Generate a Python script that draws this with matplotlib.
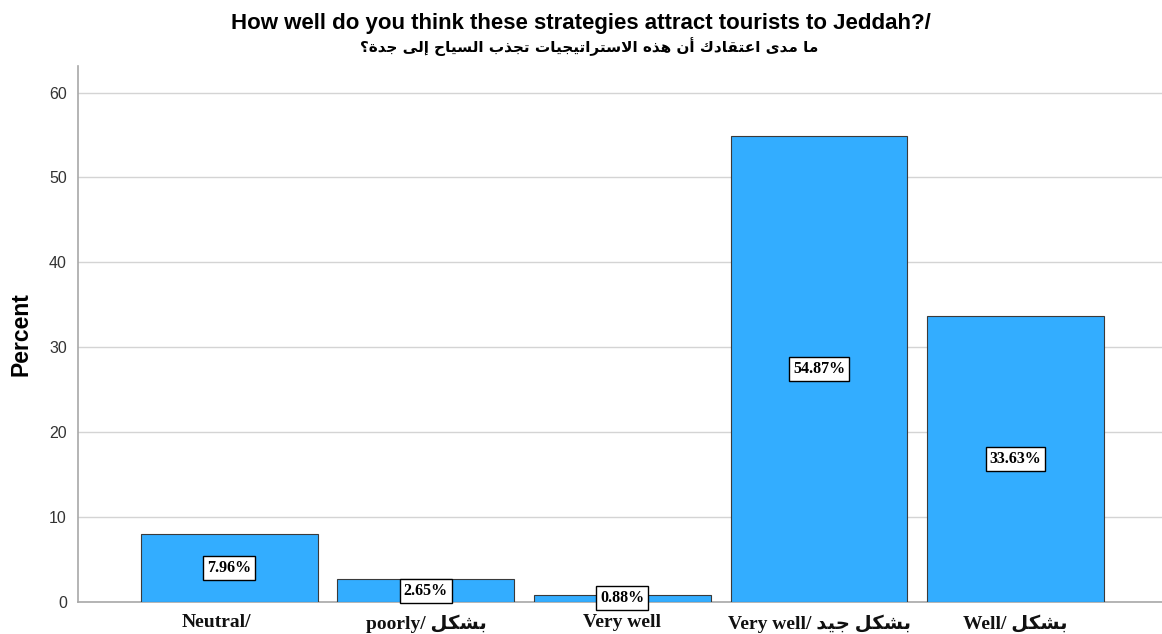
import matplotlib
matplotlib.use("Agg")
import matplotlib.pyplot as plt
from matplotlib.transforms import ScaledTranslation

# ── Data ────────────────────────────────────────────────
categories = ["Neutral/", "poorly/ بشكل", "Very well", "Very well/ بشكل جيد", "Well/ بشكل"]
percents = [7.96, 2.65, 0.88, 54.87, 33.63]
yticks = [0, 10, 20, 30, 40, 50, 60]
title_en = "How well do you think these strategies attract tourists to Jeddah?/"
title_ar = "ما مدى اعتقادك أن هذه الاستراتيجيات تجذب السياح إلى جدة؟"

BAR_BLUE = "#33adff"
EDGE = "#3a3a3a"
GRID = "#d4d4d4"
AXIS = "#a8a8a8"

# ── Minimal Arabic shaping (presentation forms, visual order) ──
# letter -> (isolated, final, initial, medial); two-form letters only join on the right
FORMS = {
    "ا": (0xFE8D, 0xFE8E), "أ": (0xFE83, 0xFE84), "إ": (0xFE87, 0xFE88), "آ": (0xFE81, 0xFE82),
    "ب": (0xFE8F, 0xFE90, 0xFE91, 0xFE92), "ة": (0xFE93, 0xFE94),
    "ت": (0xFE95, 0xFE96, 0xFE97, 0xFE98), "ث": (0xFE99, 0xFE9A, 0xFE9B, 0xFE9C),
    "ج": (0xFE9D, 0xFE9E, 0xFE9F, 0xFEA0), "ح": (0xFEA1, 0xFEA2, 0xFEA3, 0xFEA4),
    "خ": (0xFEA5, 0xFEA6, 0xFEA7, 0xFEA8), "د": (0xFEA9, 0xFEAA), "ذ": (0xFEAB, 0xFEAC),
    "ر": (0xFEAD, 0xFEAE), "ز": (0xFEAF, 0xFEB0),
    "س": (0xFEB1, 0xFEB2, 0xFEB3, 0xFEB4), "ش": (0xFEB5, 0xFEB6, 0xFEB7, 0xFEB8),
    "ص": (0xFEB9, 0xFEBA, 0xFEBB, 0xFEBC), "ض": (0xFEBD, 0xFEBE, 0xFEBF, 0xFEC0),
    "ط": (0xFEC1, 0xFEC2, 0xFEC3, 0xFEC4), "ظ": (0xFEC5, 0xFEC6, 0xFEC7, 0xFEC8),
    "ع": (0xFEC9, 0xFECA, 0xFECB, 0xFECC), "غ": (0xFECD, 0xFECE, 0xFECF, 0xFED0),
    "ف": (0xFED1, 0xFED2, 0xFED3, 0xFED4), "ق": (0xFED5, 0xFED6, 0xFED7, 0xFED8),
    "ك": (0xFED9, 0xFEDA, 0xFEDB, 0xFEDC), "ل": (0xFEDD, 0xFEDE, 0xFEDF, 0xFEE0),
    "م": (0xFEE1, 0xFEE2, 0xFEE3, 0xFEE4), "ن": (0xFEE5, 0xFEE6, 0xFEE7, 0xFEE8),
    "ه": (0xFEE9, 0xFEEA, 0xFEEB, 0xFEEC), "و": (0xFEED, 0xFEEE), "ى": (0xFEEF, 0xFEF0),
    "ي": (0xFEF1, 0xFEF2, 0xFEF3, 0xFEF4),
}
LAM_ALEF = {"آ": (0xFEF5, 0xFEF6), "أ": (0xFEF7, 0xFEF8), "إ": (0xFEF9, 0xFEFA), "ا": (0xFEFB, 0xFEFC)}


def _joins_left(ch):
    return ch in FORMS and len(FORMS[ch]) == 4


def shape_word(word):
    out = []
    i = 0
    n = len(word)
    while i < n:
        ch = word[i]
        prev_joins = i > 0 and _joins_left(word[i - 1])
        if ch == "ل" and i + 1 < n and word[i + 1] in LAM_ALEF:
            iso, fin = LAM_ALEF[word[i + 1]]
            out.append(chr(fin if prev_joins else iso))
            i += 2
            continue
        if ch not in FORMS:
            out.append(ch)
            i += 1
            continue
        f = FORMS[ch]
        next_is_letter = i + 1 < n and word[i + 1] in FORMS
        if len(f) == 2:
            out.append(chr(f[1] if prev_joins else f[0]))
        else:
            if prev_joins and next_is_letter:
                out.append(chr(f[3]))
            elif prev_joins:
                out.append(chr(f[1]))
            elif next_is_letter:
                out.append(chr(f[2]))
            else:
                out.append(chr(f[0]))
        i += 1
    return "".join(out)


def ar(text):
    # shape each word, then reverse for left-to-right drawing
    return shape_word(text)[::-1]


def visual_label(label):
    # English part first, Arabic run drawn after it
    for k, ch in enumerate(label):
        if ch in FORMS:
            return label[:k] + ar(label[k:])
    return label


# ── Figure ──────────────────────────────────────────────
fig = plt.figure(figsize=(11.62, 6.34), dpi=100, facecolor="white")
ax = fig.add_axes([0.0671, 0.0505, 0.9329, 0.845])

x = list(range(len(categories)))
bars = ax.bar(x, percents, width=0.9, color=BAR_BLUE, edgecolor=EDGE, linewidth=0.8, zorder=3)

ax.set_xlim(-0.77, len(categories) - 1 + 0.745)
ax.set_ylim(0, 63.1)
ax.set_yticks(yticks)
ax.yaxis.grid(True, color=GRID, linewidth=1.0, zorder=0)
ax.set_axisbelow(True)

for side in ("top", "right"):
    ax.spines[side].set_visible(False)
for side in ("left", "bottom"):
    ax.spines[side].set_color(AXIS)
    ax.spines[side].set_linewidth(1.2)

ax.tick_params(axis="y", length=0, pad=8, labelsize=11.5, labelcolor="#333333")
ax.tick_params(axis="x", length=0, pad=9)
for t in ax.get_yticklabels():
    t.set_family(["Liberation Sans", "DejaVu Sans"])

ax.set_xticks(x)
ax.set_xticklabels([visual_label(c) for c in categories],
                   family=["Liberation Serif", "DejaVu Sans"],
                   fontweight="bold", fontsize=14, color="#111111")
# first label has an empty Arabic half, so it sits slightly left of its bar
lbl0 = ax.get_xticklabels()[0]
lbl0.set_transform(lbl0.get_transform() + ScaledTranslation(-0.13, 0, fig.dpi_scale_trans))

ax.set_ylabel("Percent", family=["Liberation Sans", "DejaVu Sans"],
              fontweight="bold", fontsize=16.5, labelpad=12)

# Value boxes in the middle of each bar
for xi, v in zip(x, percents):
    ax.text(xi, v / 2, f"{v:.2f}%", ha="center", va="center",
            family=["Liberation Serif", "DejaVu Serif"], fontweight="bold", fontsize=11.5,
            color="black", zorder=5,
            bbox=dict(boxstyle="square,pad=0.25", facecolor="white", edgecolor="black", linewidth=1.0))

# Two-line bilingual title
fig.text(0.500, 0.963, title_en, ha="center", va="center",
         family=["Liberation Sans", "DejaVu Sans"], fontweight="bold", fontsize=16)
fig.text(0.507, 0.927, ar(title_ar), ha="center", va="center",
         family=["DejaVu Sans"], fontweight="bold", fontsize=11)

fig.savefig("out.png", dpi=100, facecolor="white")
